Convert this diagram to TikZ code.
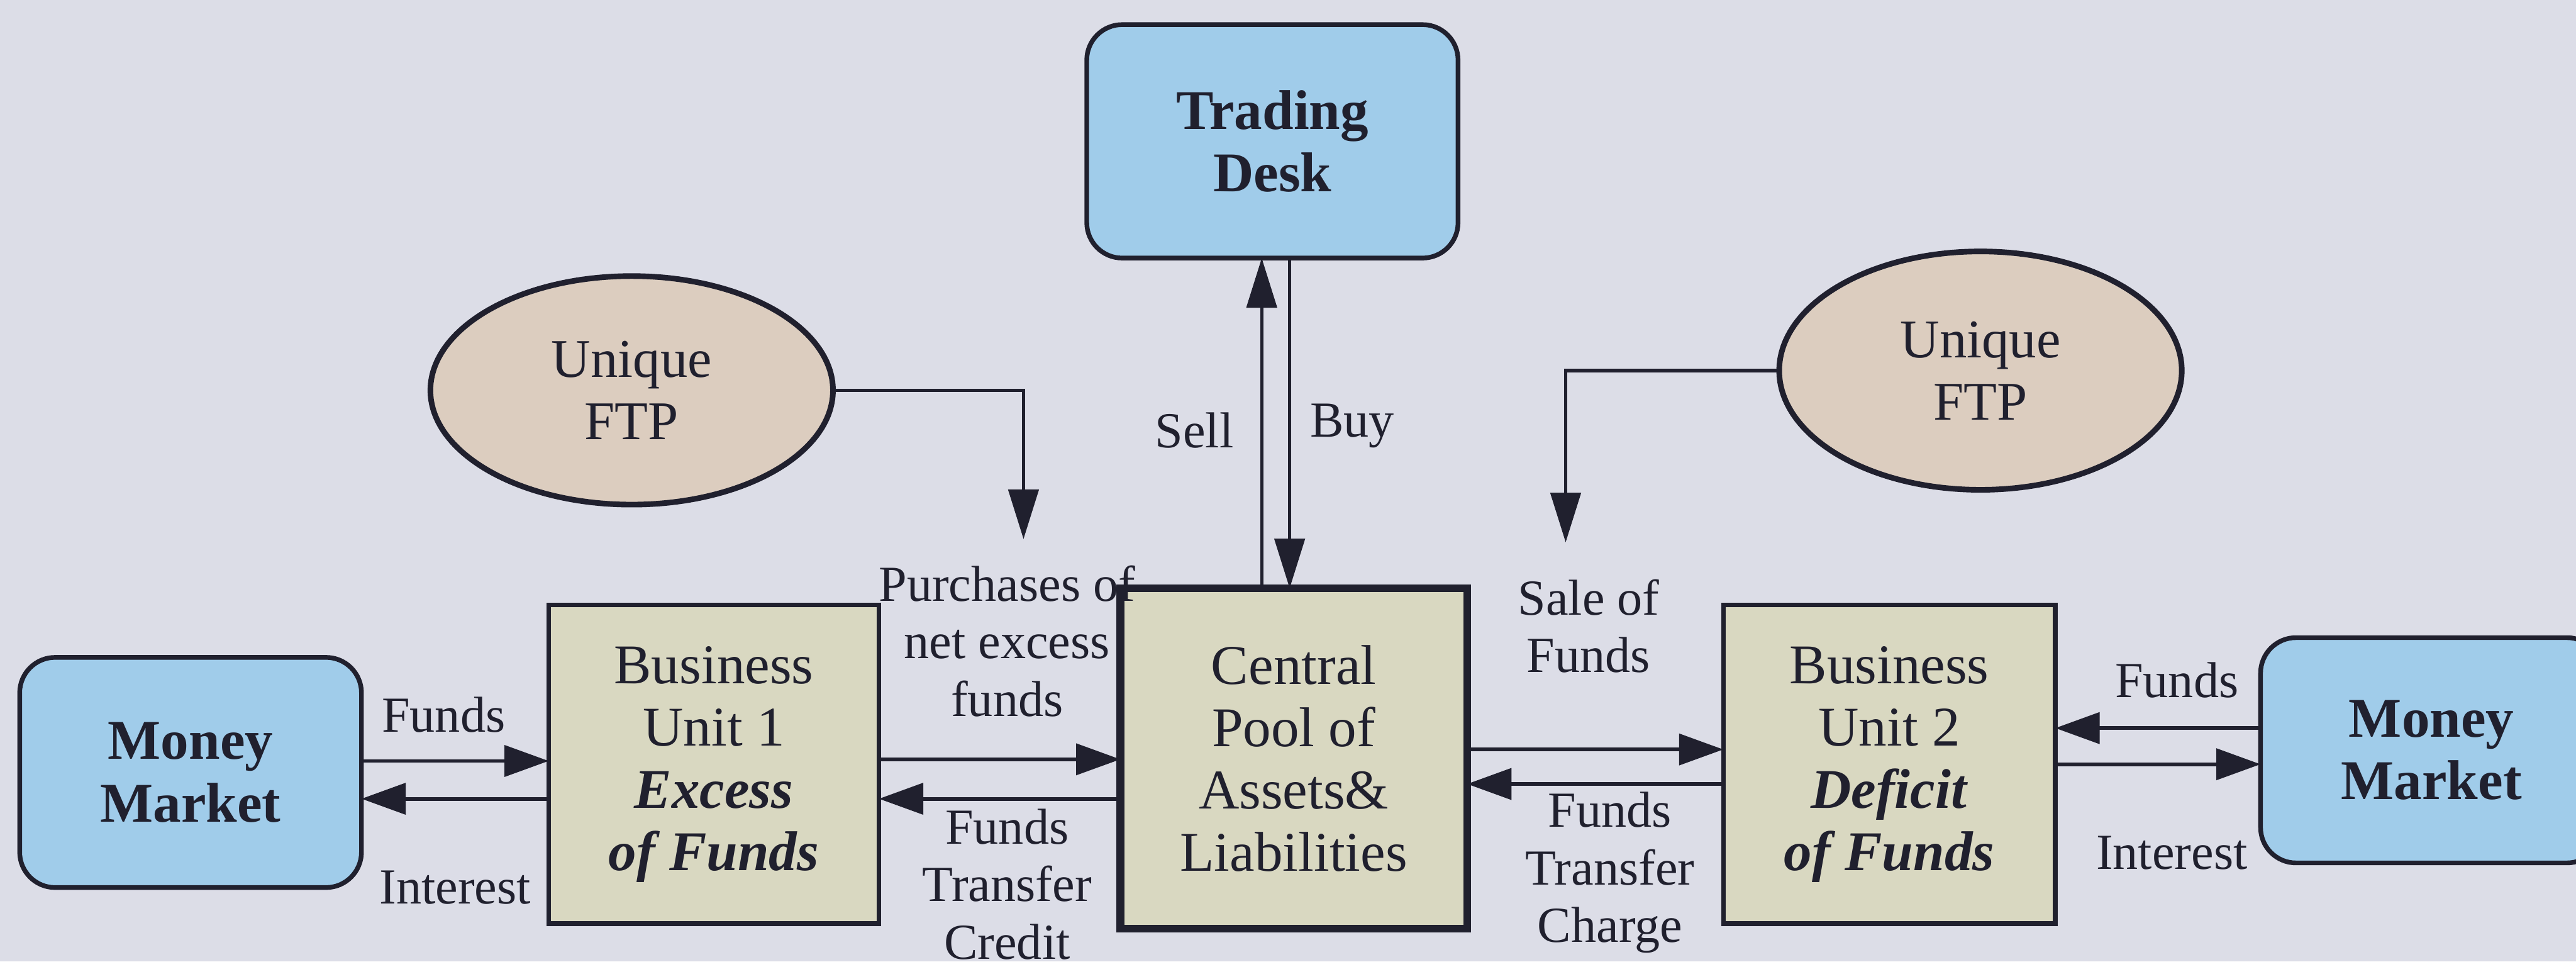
\documentclass[tikz,border=0pt]{standalone}
\usepackage{fontspec}
\setmainfont{Liberation Serif}
\usetikzlibrary{arrows.meta,shapes.geometric}

\definecolor{paper}{RGB}{220,221,231}
\definecolor{ink}{RGB}{32,32,46}
\definecolor{skyfill}{RGB}{160,204,234}
\definecolor{unitfill}{RGB}{217,216,193}
\definecolor{ftpfill}{RGB}{220,205,191}

\tikzset{
  boxtext/.style={font=\fontsize{18}{20}\selectfont, align=center, text=ink},
  labeltext/.style={font=\fontsize{16.2}{18.5}\selectfont, align=center, text=ink, inner sep=0pt},
  market/.style={boxtext, draw=ink, fill=skyfill, line width=1.5pt, rounded corners=0.4cm,
                 inner sep=0pt, outer sep=0pt},
  unitbox/.style={boxtext, draw=ink, fill=unitfill, line width=1.5pt, inner sep=0pt, outer sep=0pt},
  poolbox/.style={unitbox, line width=2.5pt},
  ftp/.style={boxtext, font=\fontsize{17.5}{20}\selectfont, ellipse, draw=ink, fill=ftpfill,
              line width=1.8pt, inner sep=0pt, outer sep=0pt},
  flow/.style={draw=ink, line width=1.2pt, -{Triangle[length=0.5cm,width=0.35cm]}},
  slim/.style={draw=ink, line width=1.1pt, -{Triangle[length=0.56cm,width=0.34cm]}},
}

\begin{document}
\begin{tikzpicture}[x=0.018544cm, y=-0.018544cm]
  \useasboundingbox (0,0) rectangle (1568,585);
  \clip (0,0) rectangle (1568,585);
  \fill[paper] (0,0) rectangle (1568,585);

  % boxes
  \node[market, minimum width=3.857cm, minimum height=2.596cm] (mml) at (116,470)
    {\bfseries Money\\\bfseries Market};
  \node[unitbox, minimum width=3.727cm, minimum height=3.598cm] (bu1) at (434.5,465)
    {Business\\Unit 1\\\textbf{\textit{Excess}}\\\textbf{\textit{of Funds}}};
  \node[poolbox, minimum width=3.913cm, minimum height=3.839cm] (cp) at (787.5,461.5)
    {Central\\Pool of\\Assets\&\\Liabilities};
  \node[unitbox, minimum width=3.746cm, minimum height=3.598cm] (bu2) at (1150,465)
    {Business\\Unit 2\\\textbf{\textit{Deficit}}\\\textbf{\textit{of Funds}}};
  \node[market, minimum width=3.857cm, minimum height=2.541cm] (mmr) at (1480,456.5)
    {\bfseries Money\\\bfseries Market};
  \node[market, minimum width=4.19cm, minimum height=2.633cm] (td) at (774.5,86)
    {\bfseries Trading\\\bfseries Desk};

  % FTP ellipses
  \node[ftp, minimum width=4.543cm, minimum height=2.578cm] (ftpl) at (384.5,237.5) {Unique\\FTP};
  \node[ftp, minimum width=4.543cm, minimum height=2.689cm] (ftpr) at (1205.5,225.5) {Unique\\FTP};

  % flows between money markets, units and the pool
  \draw[flow] (mml.east |- 0,463) -- (bu1.west |- 0,463);
  \draw[flow] (bu1.west |- 0,486) -- (mml.east |- 0,486);
  \draw[flow] (bu1.east |- 0,462) -- (cp.west |- 0,462);
  \draw[flow] (cp.west |- 0,486) -- (bu1.east |- 0,486);
  \draw[flow] (cp.east |- 0,456) -- (bu2.west |- 0,456);
  \draw[flow] (bu2.west |- 0,477) -- (cp.east |- 0,477);
  \draw[flow] (mmr.west |- 0,443) -- (bu2.east |- 0,443);
  \draw[flow] (bu2.east |- 0,465) -- (mmr.west |- 0,465);

  % trading desk
  \draw[slim] (cp.north -| 768,0) -- (td.south -| 768,0);
  \draw[slim] (td.south -| 785,0) -- (cp.north -| 785,0);

  % FTP feeds
  \coordinate (ftplend) at (623,328);
  \coordinate (ftprend) at (953,330);
  \draw[slim] (ftpl.east) -| (ftplend);
  \draw[slim] (ftpr.west) -| (ftprend);

  % labels
  \node[labeltext] (lfunds)  at (270,435) {Funds};
  \node[labeltext] (lint)    at (277,540) {Interest};
  \node[labeltext] (lpurch)  at (613,390) {Purchases of\\net excess\\funds};
  \node[labeltext] (lcredit) at (613,538) {Funds\\Transfer\\Credit};
  \node[labeltext] (lsell)   at (727,262) {Sell};
  \node[labeltext] (lbuy)    at (823,259) {Buy};
  \node[labeltext] (lsale)   at (967,381) {Sale of\\Funds};
  \node[labeltext] (lcharge) at (980,531) {Funds\\Transfer\\Charge};
  \node[labeltext] (rfunds)  at (1325,414) {Funds};
  \node[labeltext] (rint)    at (1322,519) {Interest};
\end{tikzpicture}
\end{document}
